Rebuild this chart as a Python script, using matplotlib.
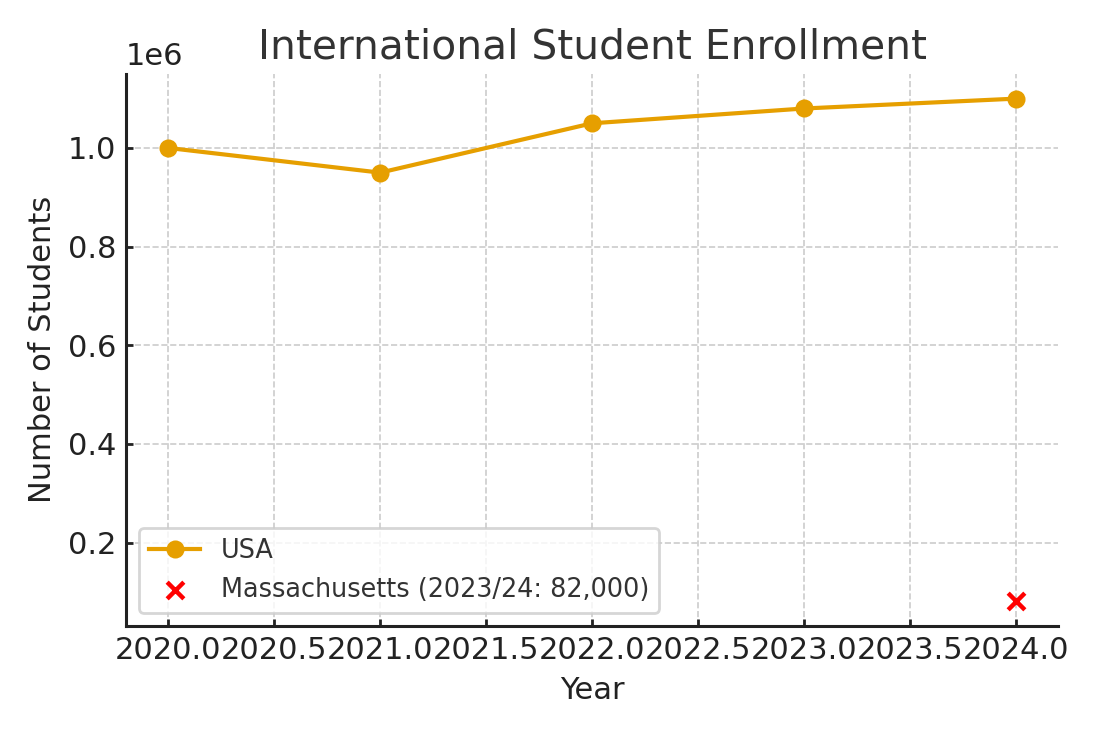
import matplotlib
matplotlib.use("Agg")
import matplotlib.pyplot as plt

# Enrollment figures
years = [2020, 2021, 2022, 2023, 2024]
usa_students = [1_000_000, 950_000, 1_050_000, 1_080_000, 1_100_000]
ma_year = [2024]
ma_students = [82_000]

plt.rcParams.update({
    "font.family": ["DejaVu Sans"],
    "axes.edgecolor": "#222222",
    "xtick.direction": "in",
    "ytick.direction": "in",
    "xtick.color": "#222222",
    "ytick.color": "#222222",
    "axes.linewidth": 1.1,
})

fig, ax = plt.subplots(figsize=(5.5, 3.665), dpi=200)
ax.plot(years, usa_students, color="#E69F00", marker="o", lw=1.5, ms=5.5,
        label="USA")
ax.scatter(ma_year, ma_students, color="red", marker="x", s=36, lw=1.6,
           label="Massachusetts (2023/24: 82,000)", zorder=3)

ax.set_title("International Student Enrollment", fontsize=14.7,
             color="#333333", pad=5.5)
ax.set_xlabel("Year", fontsize=11, color="#222222")
ax.set_ylabel("Number of Students", fontsize=11, color="#222222")
ax.tick_params(labelsize=11, length=2.5, width=1)
ax.yaxis.get_offset_text().set_fontsize(11)
ax.grid(True, ls="--", color="#cccccc", lw=0.6)
ax.spines["top"].set_visible(False)
ax.spines["right"].set_visible(False)

leg = ax.legend(loc="lower left", fontsize=9.2, frameon=True)
leg.get_frame().set_edgecolor("#cccccc")
for t in leg.get_texts():
    t.set_color("#333333")

fig.subplots_adjust(left=0.1145, right=0.962, top=0.8997, bottom=0.146)
fig.savefig("out.png", dpi=200)
